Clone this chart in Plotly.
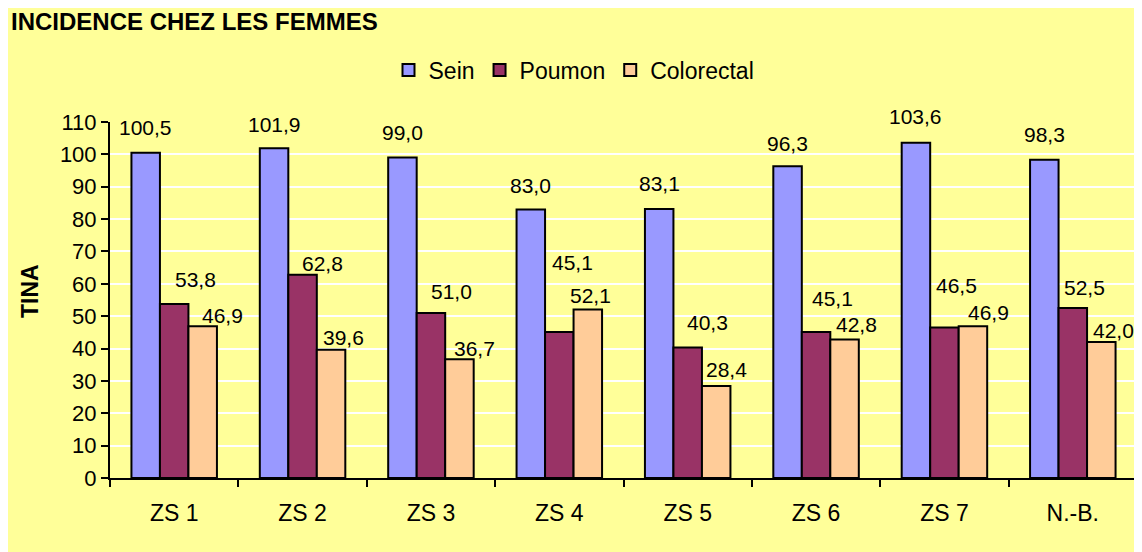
import plotly.graph_objects as go

categories = ["ZS 1", "ZS 2", "ZS 3", "ZS 4", "ZS 5", "ZS 6", "ZS 7", "N.-B."]
sein = [100.5, 101.9, 99.0, 83.0, 83.1, 96.3, 103.6, 98.3]
poumon = [53.8, 62.8, 51.0, 45.1, 40.3, 45.1, 46.5, 52.5]
colorectal = [46.9, 39.6, 36.7, 52.1, 28.4, 42.8, 46.9, 42.0]

series_names = ["Sein", "Poumon", "Colorectal"]
series_values = [sein, poumon, colorectal]
colors = ["#9999FF", "#993366", "#FFCC99"]

# label placement tweaks (pixels): horizontal extra shift and height above bar top
label_dx = [
    [0, 0, 0, 0, 0, 0, 0, 0],
    [21, 20, 21, 13, 20, 16, 12, 12],
    [20, 12, 15, 3, 10, 12, 16, 12],
]
label_dy = [
    [25, 24, 25, 24, 26, 23, 26, 25],
    [24, 11, 21, 70, 25, 34, 42, 21],
    [11, 12, 11, 14, 17, 15, 14, 12],
]

# page body adds an 8px margin, so the figure is slightly smaller than the window
W, H = 1134, 544
ML, MR, MT, MB = 102, 5, 114, 74
PW, PH = W - ML - MR, H - MT - MB
BARGAP = 0.334

FONT = "Liberation Sans, Arial, sans-serif"

fig = go.Figure()
for name, vals, col in zip(series_names, series_values, colors):
    fig.add_trace(go.Bar(
        name=name, x=categories, y=vals,
        marker=dict(color=col, line=dict(color="black", width=2)),
    ))

bar_px = PW / len(categories) * (1 - BARGAP) / 3
annotations = []
for s, vals in enumerate(series_values):
    for i, v in enumerate(vals):
        annotations.append(dict(
            x=categories[i], y=v, xref="x", yref="y",
            text=f"{v:.1f}".replace(".", ","),
            showarrow=False,
            xshift=(s - 1) * bar_px + label_dx[s][i],
            yshift=label_dy[s][i],
            font=dict(family=FONT, size=21, color="black"),
        ))

annotations.append(dict(
    text="<b>TINA</b>", textangle=-90, showarrow=False,
    xref="paper", yref="paper", x=(22 - ML) / PW, y=(H - MB - 283) / PH,
    xanchor="center", yanchor="middle",
    font=dict(family=FONT, size=23, color="black"),
))

fig.update_layout(
    width=W, height=H,
    margin=dict(l=ML, r=MR, t=MT, b=MB),
    paper_bgcolor="#FFFF99",
    plot_bgcolor="#FFFF99",
    barmode="group", bargap=BARGAP, bargroupgap=0,
    font=dict(family=FONT, size=23, color="black"),
    title=dict(
        text="<b>INCIDENCE CHEZ LES FEMMES</b>",
        x=3 / W, xanchor="left", xref="container",
        y=1 - 14 / H, yanchor="middle", yref="container",
        font=dict(family=FONT, size=24, color="black"),
    ),
    legend=dict(
        orientation="h", x=(566 - ML) / PW, xanchor="center",
        y=1 + (MT - 62) / PH, yanchor="middle",
        font=dict(family=FONT, size=23, color="black"),
        bgcolor="rgba(0,0,0,0)",
        itemwidth=30,
    ),
    showlegend=True,
    annotations=annotations,
    xaxis=dict(
        showline=True, linecolor="black", linewidth=2,
        ticks="outside", ticklen=7, tickwidth=2, tickcolor="black",
        tickson="boundaries", showgrid=False,
        tickfont=dict(family=FONT, size=23, color="black"),
        ticklabelstandoff=13,
    ),
    yaxis=dict(
        range=[0, 110], dtick=10, tick0=0,
        showline=True, linecolor="black", linewidth=2,
        ticks="outside", ticklen=7, tickwidth=2, tickcolor="black",
        showgrid=True, gridcolor="white", gridwidth=2,
        zeroline=False,
        tickfont=dict(family=FONT, size=22, color="black"),
    ),
)

fig.write_html("out.html")
